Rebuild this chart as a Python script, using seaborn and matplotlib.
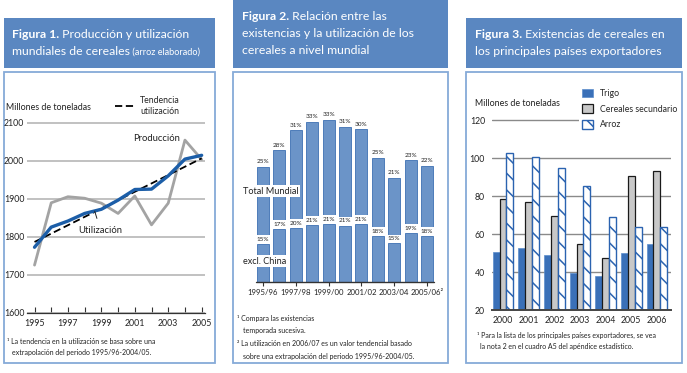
import numpy as np
import pandas as pd
import matplotlib
matplotlib.use('Agg')
import matplotlib.pyplot as plt
from matplotlib.patches import Rectangle
from matplotlib.lines import Line2D
import seaborn as sns

# ---- Figura 1 data (millones de toneladas) ----
years = list(range(1995, 2006))
produccion = [1726, 1890, 1906, 1902, 1889, 1862, 1908, 1832, 1889, 2055, 2004]
utilizacion = [1773, 1826, 1842, 1862, 1873, 1897, 1925, 1926, 1961, 2005, 2015]
tendencia = [1787, 1809, 1831, 1853, 1875, 1897, 1919, 1941, 1963, 1985, 2007]

# ---- Figura 2 data (relacion existencias / utilizacion, %) ----
campanas = ['1995/96', '1996/97', '1997/98', '1998/99', '1999/00', '2000/01',
            '2001/02', '2002/03', '2003/04', '2004/05', '2005/06']
total_mundial = [23.1, 26.4, 30.4, 32.1, 32.5, 31.1, 30.6, 24.9, 20.9, 24.4, 23.3]
total_etiquetas = ['25%', '28%', '31%', '33%', '33%', '31%', '30%', '25%', '21%', '23%', '22%']
excl_china = [14.0, 19.6, 20.1, 21.1, 21.4, 20.9, 21.5, 17.1, 14.3, 18.3, 17.1]
excl_etiquetas = ['15%', '17%', '20%', '21%', '21%', '21%', '21%', '18%', '15%', '19%', '18%']
campana_ticks = ['1995/96', '1997/98', '1999/00', '2001/02', '2003/04', '2005/06\u00b2']

# ---- Figura 3 data (millones de toneladas) ----
anios3 = ['2000', '2001', '2002', '2003', '2004', '2005', '2006']
trigo = [50.4, 52.5, 48.9, 39.3, 38.1, 49.8, 54.9]
cereales_sec = [78.2, 77.0, 69.6, 54.7, 47.2, 90.7, 93.3]
arroz = [102.5, 100.7, 94.6, 85.3, 69.1, 63.5, 63.5]

HEADER = '#5a87c1'
BORDER = '#86aad8'
BAR2 = '#6b94c8'
BAR2_EDGE = '#3d70b3'
TXT = '#222222'

sns.set_theme(style='white')
plt.rcParams['font.family'] = ['Lato', 'DejaVu Sans']
plt.rcParams['hatch.linewidth'] = 1.1

W, H = 687, 373
fig = plt.figure(figsize=(W / 100, H / 100), dpi=100)
renderer = fig.canvas.get_renderer()


def rect(x0, y0, x1, y1):
    return [x0 / W, 1 - y1 / H, (x1 - x0) / W, (y1 - y0) / H]


def rich_line(x, y, parts, color='white'):
    cur = x
    for s, w, sz in parts:
        t = fig.text(cur / W, 1 - y / H, s, fontsize=sz, fontweight=w,
                     color=color, va='baseline', ha='left')
        cur += t.get_window_extent(renderer=renderer).width


def note(x, y, s, size=5.0):
    fig.text(x / W, 1 - y / H, s, fontsize=size, color=TXT, va='center', ha='left')


# headers and frames
for (x0, y0, x1, y1) in [(4, 18, 215, 68), (233, 0, 448, 68), (466, 18, 682, 68)]:
    fig.add_artist(Rectangle((x0 / W, 1 - y1 / H), (x1 - x0) / W, (y1 - y0) / H,
                             transform=fig.transFigure, facecolor=HEADER,
                             edgecolor='none', zorder=0))
for (x0, y0, x1, y1) in [(4, 72, 215, 363), (233, 72, 448, 363), (466, 72, 682, 363)]:
    fig.add_artist(Rectangle((x0 / W, 1 - y1 / H), (x1 - x0) / W, (y1 - y0) / H,
                             transform=fig.transFigure, facecolor='none',
                             edgecolor=BORDER, lw=1.3, zorder=0))

HS = 8.8
rich_line(12, 38, [('Figura 1.', 'bold', HS), (' Producción y utilización', 'normal', HS)])
rich_line(12, 55, [('mundiales de cereales', 'normal', HS), (' (arroz elaborado)', 'normal', 6.6)])
rich_line(242, 20, [('Figura 2.', 'bold', HS), (' Relación entre las', 'normal', HS)])
rich_line(242, 37, [('existencias y la utilización de los', 'normal', HS)])
rich_line(242, 54, [('cereales a nivel mundial', 'normal', HS)])
rich_line(475, 38, [('Figura 3.', 'bold', HS), (' Existencias de cereales en', 'normal', HS)])
rich_line(475, 55, [('los principales países exportadores', 'normal', HS)])

# ================= Figura 1 =================
ax1 = fig.add_axes(rect(27, 119.2, 205, 313))
ax1.set_facecolor('none')
sns.lineplot(x=years, y=produccion, color='#a3a3a3', lw=2.0, ax=ax1)
sns.lineplot(x=years, y=tendencia, color='black', lw=1.3, ax=ax1)
ax1.lines[-1].set_dashes((4, 2))
sns.lineplot(x=years, y=utilizacion, color='#1c5ea8', lw=2.4, ax=ax1)
ax1.set_xlim(1994.55, 2005.2)
ax1.set_ylim(1600, 2110)
ax1.set_yticks([1600, 1700, 1800, 1900, 2000, 2100])
ax1.set_xticks(range(1995, 2006, 2))
ax1.set_xticks(range(1995, 2006), minor=True)
ax1.grid(axis='y', color='#b0b0b0', lw=1.1)
ax1.set_axisbelow(True)
for s in ['top', 'right', 'left']:
    ax1.spines[s].set_visible(False)
ax1.spines['bottom'].set_color('#333333')
ax1.spines['bottom'].set_linewidth(0.9)
ax1.tick_params(axis='x', which='both', direction='in', length=4, width=0.8,
                color='#333333', labelsize=6.3, pad=4, labelcolor=TXT, bottom=True)
ax1.tick_params(axis='y', length=0, labelsize=6.3, pad=2, labelcolor=TXT)
ax1.set_xlabel('')
ax1.set_ylabel('')
ax1.text(2002.3, 2060, 'Producción', fontsize=6.8, color=TXT, ha='center', va='center')
ax1.annotate('Utilización', xy=(1998.6, 1868), xytext=(1998.95, 1818),
             fontsize=6.8, color=TXT, ha='center', va='center',
             arrowprops=dict(arrowstyle='-', lw=0.7, color='#222222',
                             shrinkA=3, shrinkB=0))
ax1.legend(handles=[Line2D([], [], color='black', lw=1.3, dashes=(4, 2))],
           labels=['Tendencia\nutilización'], frameon=False, fontsize=6.3,
           handlelength=2.4, handletextpad=0.5, borderpad=0, borderaxespad=0,
           loc='center left', bbox_to_anchor=(115 / W, 1 - 106 / H),
           bbox_transform=fig.transFigure)
fig.text(6 / W, 1 - 107 / H, 'Millones de toneladas', fontsize=6.4, color=TXT,
         va='center', ha='left')
note(7, 341, '\u00b9 La tendencia en la utilización se basa sobre una')
note(12, 353, 'extrapolación del periodo 1995/96-2004/05.')

# ================= Figura 2 =================
ax2 = fig.add_axes(rect(256, 100, 434, 282))
ax2.set_facecolor('none')
sns.barplot(x=campanas, y=total_mundial, color=BAR2, saturation=1, width=0.73,
            edgecolor=BAR2_EDGE, linewidth=0.6, ax=ax2)
ax2.set_ylim(0, 182 / 5)
ax2.set_xlim(-0.43, 10.43)
for i, (v, lab) in enumerate(zip(total_mundial, total_etiquetas)):
    ax2.annotate(lab, (i, v), xytext=(0, 1.5), textcoords='offset points',
                 ha='center', va='bottom', fontsize=4.6, color=TXT)
ax2b = ax2.twinx()
sns.barplot(x=campanas, y=excl_china, color=BAR2, saturation=1, width=0.73,
            edgecolor='white', linewidth=3, ax=ax2b)
sns.barplot(x=campanas, y=excl_china, color=BAR2, saturation=1, width=0.73,
            edgecolor=BAR2_EDGE, linewidth=0.6, ax=ax2b)
ax2b.set_ylim(0, 182 / 2.7)
ax2b.set_xlim(-0.43, 10.43)
for i, (v, lab) in enumerate(zip(excl_china, excl_etiquetas)):
    ax2b.annotate(lab, (i, v), xytext=(0, 1.5), textcoords='offset points',
                  ha='center', va='bottom', fontsize=4.6, color=TXT,
                  bbox=dict(facecolor='white', edgecolor='none', pad=1.3))
ax2b.axhline(0, color='#333333', lw=1.0, clip_on=False)
for a in (ax2, ax2b):
    for s in a.spines.values():
        s.set_visible(False)
    a.set_yticks([])
    a.set_ylabel('')
ax2.set_xticks(range(0, 11, 2))
ax2.set_xticklabels(campana_ticks)
ax2.tick_params(axis='x', direction='out', length=3, width=0.8, color='#333333',
                labelsize=5.6, pad=2, labelcolor=TXT, bottom=True)
ax2b.tick_params(axis='x', bottom=False, labelbottom=False)
fig.text(243 / W, 1 - 191 / H, 'Total Mundial', fontsize=6.6, color=TXT, va='center',
         ha='left', bbox=dict(facecolor='white', edgecolor='none', pad=1.0))
fig.text(243 / W, 1 - 261 / H, 'excl. China', fontsize=6.6, color=TXT, va='center',
         ha='left', bbox=dict(facecolor='white', edgecolor='none', pad=1.0))
note(237, 318, '\u00b9 Compara las existencias')
note(243, 331, 'temporada sucesiva.')
note(237, 344, '\u00b2 La utilización en 2006/07 es un valor tendencial basado')
note(243, 357, 'sobre una extrapolación del periodo 1995/96-2004/05.')

# ================= Figura 3 =================
df3 = pd.DataFrame({
    'anio': anios3 * 3,
    'valor': trigo + cereales_sec + arroz,
    'cereal': ['Trigo'] * 7 + ['Cereales secundario'] * 7 + ['Arroz'] * 7,
})
ax3 = fig.add_axes(rect(492, 118.1, 671, 310))
ax3.set_facecolor('none')
sns.barplot(data=df3, x='anio', y='valor', hue='cereal', saturation=1, width=0.8,
            palette={'Trigo': '#3a70b8', 'Cereales secundario': '#c8c8c8', 'Arroz': 'white'},
            legend=False, ax=ax3)
styles = [dict(edgecolor='#5a8ccc', lw=0.5, hatch=None),
          dict(edgecolor='#1a1a1a', lw=0.9, hatch=None),
          dict(edgecolor='#2b63b0', lw=1.0, hatch='\\\\')]
for cont, st in zip(ax3.containers, styles):
    for p in cont.patches:
        p.set_edgecolor(st['edgecolor'])
        p.set_linewidth(st['lw'])
        if st['hatch']:
            p.set_hatch(st['hatch'])
ax3.set_ylim(20, 121)
ax3.set_xlim(-0.43, 6.55)
ax3.set_yticks([20, 40, 60, 80, 100, 120])
ax3.grid(axis='y', color='#8a8a8a', lw=1.0)
ax3.set_axisbelow(True)
for s in ['top', 'right', 'left']:
    ax3.spines[s].set_visible(False)
ax3.spines['bottom'].set_color('#444444')
ax3.spines['bottom'].set_linewidth(1.4)
ax3.tick_params(axis='x', length=0, labelsize=6.3, pad=4, labelcolor=TXT)
ax3.tick_params(axis='y', length=0, labelsize=6.3, pad=5, labelcolor=TXT)
ax3.set_xlabel('')
ax3.set_ylabel('')
leg = ax3.legend(handles=[c.patches[0] for c in ax3.containers],
                 labels=['Trigo', 'Cereales secundario', 'Arroz'],
                 fontsize=6.3, frameon=True, facecolor='white', edgecolor='none',
                 framealpha=1, fancybox=False, handlelength=1.3, handleheight=1.1,
                 handletextpad=0.8, labelspacing=0.75, borderpad=0.3, borderaxespad=0,
                 loc='upper left', bbox_to_anchor=(579 / W, 1 - 86 / H),
                 bbox_transform=fig.transFigure)
fig.text(475 / W, 1 - 104 / H, 'Millones de toneladas', fontsize=6.4, color=TXT,
         va='center', ha='left')
note(477, 335, '\u00b9 Para la lista de los principales países exportadores, se vea')
note(480, 347, 'la nota 2 en el cuadro A5 del apéndice estadístico.')

fig.savefig('out.png', dpi=100, facecolor='white')
